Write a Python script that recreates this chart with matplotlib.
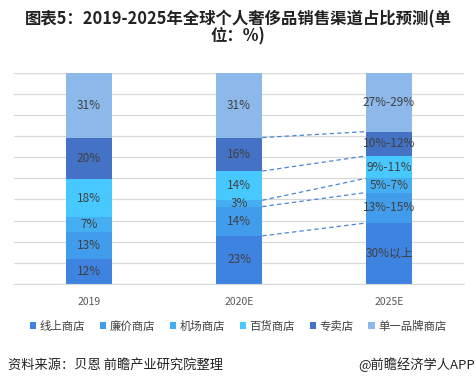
import matplotlib
matplotlib.use("Agg")
import matplotlib.pyplot as plt
import numpy as np

plt.rcParams['font.family'] = ['Noto Sans CJK SC', 'DejaVu Sans']

categories = ["2019", "2020E", "2025E"]
series_names = ["线上商店", "廉价商店", "机场商店", "百货商店", "专卖店", "单一品牌商店"]
values = {
    "线上商店": [12, 23, 30],
    "廉价商店": [13, 14, 15],
    "机场商店": [7, 3, 7],
    "百货商店": [18, 14, 11],
    "专卖店": [20, 16, 12],
    "单一品牌商店": [31, 31, 29],
}
labels = {
    "线上商店": ["12%", "23%", "30%以上"],
    "廉价商店": ["13%", "14%", "13%-15%"],
    "机场商店": ["7%", "3%", "5%-7%"],
    "百货商店": ["18%", "14%", "9%-11%"],
    "专卖店": ["20%", "16%", "10%-12%"],
    "单一品牌商店": ["31%", "31%", "27%-29%"],
}
colors = ["#3F83E0", "#419CEB", "#45AEF2", "#47C9FF", "#4472C4", "#8CB9EA"]

fig = plt.figure(figsize=(4.76, 3.86), dpi=100)
ax = fig.add_axes([14/476, 1-284/386, 450/476, (284-72.7)/386])

x = np.arange(len(categories))
data = np.array([values[n] for n in series_names], dtype=float)
totals = data.sum(axis=0)
pct = data / totals * 100
width = 0.31
bottom = np.zeros(len(categories))
bounds = []
for i, name in enumerate(series_names):
    ax.bar(x, pct[i], width, bottom=bottom, color=colors[i], label=name, zorder=2)
    for j in range(len(categories)):
        ax.text(x[j], bottom[j] + pct[i][j] / 2, labels[name][j], ha='center', va='center',
                fontsize=8.5, color='#404040', zorder=3)
    bottom = bottom + pct[i]
    bounds.append(bottom.copy())

# dashed connectors between 2020E and 2025E
for b in bounds[:-1]:
    ax.plot([x[1] + width/2, x[2] - width/2], [b[1], b[2]], ls=(0, (3.5, 2.5)),
            color='#4A86D8', lw=0.9, zorder=1)

ax.set_xlim(-0.5, 2.5)
ax.set_ylim(0, 100)
ax.set_yticks(np.arange(0, 101, 10))
ax.yaxis.grid(True, color='#D9D9D9', lw=0.9, zorder=0)
ax.set_axisbelow(True)
ax.tick_params(axis='y', left=False, labelleft=False)
ax.tick_params(axis='x', bottom=False, labelsize=7.5, labelcolor='#595959', pad=6)
ax.set_xticks(x)
ax.set_xticklabels(categories)
for s in ['top', 'right', 'left']:
    ax.spines[s].set_visible(False)
ax.spines['bottom'].set_color('#D9D9D9')

fig.text(0.5, 1-28/386, "图表5：2019-2025年全球个人奢侈品销售渠道占比预测(单\n位：%)",
         ha='center', va='center', fontsize=11.8, fontweight='bold', color='#222222',
         linespacing=0.92)

leg = fig.legend(loc='center', bbox_to_anchor=(0.5, 1-326/386), ncol=6, frameon=False,
                 fontsize=8.2, handlelength=0.55, handleheight=0.55, handletextpad=0.3,
                 columnspacing=1.3, labelcolor='#404040')

fig.text(8/476, 1-365/386, "资料来源：贝恩 前瞻产业研究院整理", ha='left', va='center',
         fontsize=9.5, color='#222222')
fig.text(475/476, 1-365/386, "@前瞻经济学人APP", ha='right', va='center',
         fontsize=9.5, color='#222222')

fig.savefig("out.png", dpi=100)
